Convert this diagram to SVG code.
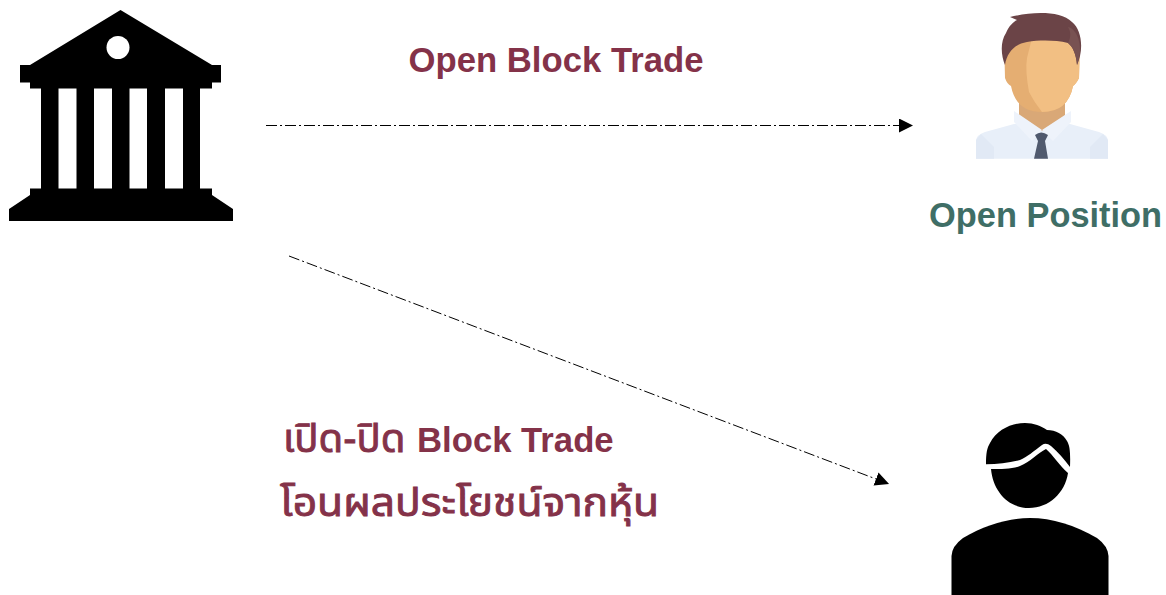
<svg xmlns="http://www.w3.org/2000/svg" width="1166" height="595" viewBox="0 0 1166 595">
<style>
.t{font-family:"Liberation Sans","Noto Sans Thai","Noto Sans",sans-serif;font-weight:700;font-size:34.700px;fill:#843249}
.g{fill:#3f6e66;font-size:34.400px}
.th{font-weight:400;font-size:40px;stroke:#843249;stroke-width:.9px}
.c{fill:none;stroke:#000;stroke-width:1;stroke-dasharray:11 3 2 3}
</style>
<defs>
<marker id="a" markerUnits="userSpaceOnUse" markerWidth="14" markerHeight="14" refX="0" refY="7" orient="auto"><path d="M0 0L14 7L0 14Z"/></marker>
</defs>
<rect width="1166" height="595" fill="#fff"/>
<g id="connectors">
<line class="c" x1="266" y1="125.500" x2="899" y2="125.500" marker-end="url(#a)"/>
<line class="c" x1="289" y1="256" x2="876" y2="479" marker-end="url(#a)"/>
</g>
<g id="bank">
<path fill-rule="evenodd" d="M120.500 10L212 65H221V82.500H212V88.500H200V188.500H212V195L233 209V221H9V209L30 195V188.500H41V88.500H30V82.500H20V65H30ZM58.500 88.500V188.500H76.500V88.500ZM94 88.500V188.500H112V88.500ZM129.500 88.500V188.500H147V88.500ZM165 88.500V188.500H183V88.500Z"/>
<circle cx="118" cy="47.500" r="11.500" fill="#fff"/>
</g>
<g id="open-position">
<path fill="#e8eff9" d="M976 158.700V141Q976 135 985 132L1014 124H1070L1099 132Q1108 135 1108 141V158.700Z"/>
<path fill="#e1e9f5" d="M976 158.700V140L981 134L994 147V158.700ZM1108 158.700V140L1103 134L1090 147V158.700Z"/>
<path fill="#d9a877" d="M1019 95H1065V118L1042 131L1019 118Z"/>
<path fill="#eef3fb" d="M1014 111L1042 130L1032 141L1014 122ZM1071 111L1042 130L1053 141L1071 122Z"/>
<path fill="#505a6e" d="M1035 135Q1041 130 1048 135L1045 141L1048 158.700H1034L1038 141Z"/>
<path fill="#e5ae72" d="M1004 38H1080L1079 78Q1076 84 1073 86Q1068 112 1042 112Q1016 112 1011 86Q1007 84 1005 78Z"/>
<path fill="#f2bf83" d="M1032 38H1080L1079 78Q1076 84 1073 86Q1068 112 1042 112Q1034 102 1029 92Q1025 70 1027 58Z"/>
<path fill="#6b4447" d="M1005 65C1001 55 1000 42 1006 33C1009 26 1013 22 1017 20L1010 17C1030 12 1060 10 1072 22C1082 30 1084 50 1077 65C1076 54 1073 47 1068 43C1055 40 1040 40 1027 42C1015 44 1007 52 1005 65Z"/>
<path fill="#785252" d="M1068 27C1078 29 1084 48 1077 65C1076 54 1073 47 1068 43C1071 37 1071 32 1068 27Z"/>
</g>
<g id="client">
<path d="M986 464.300C986 453 987 448 990 443C997 430 1011 423 1025 423C1034 423 1041 426 1047 430C1056 430 1063 434 1067 441C1070 446 1070.500 453 1070 467C1064 459 1058 452 1051 446Q1046 442 1042 445C1034 451 1027 457 1020 460C1010 463 998 464 986 464.300Z"/>
<path d="M991 469C1002 469 1012 469 1020 466C1030 462 1038 453 1046 449C1053 455 1060 466 1068 473C1065 493 1049 508 1029 508C1008 508 993 491 991 469Z"/>
<path d="M951.500 595V556Q952 546 963 538C985 525 1008 518 1030 518C1052 518 1075 525 1097 538Q1108 546 1108.500 556V595Z"/>
</g>
<g id="labels">
<text class="t" x="408.500" y="71.500">Open Block Trade</text>
<text class="t g" x="929" y="227">Open Position</text>
<text class="t" x="283" y="452"><tspan class="th">เปิด-ปิด</tspan> <tspan x="417">Block Trade</tspan></text>
<text class="t th" x="280" y="516" textLength="379" lengthAdjust="spacingAndGlyphs">โอนผลประโยชน์จากหุ้น</text>
</g>
</svg>
